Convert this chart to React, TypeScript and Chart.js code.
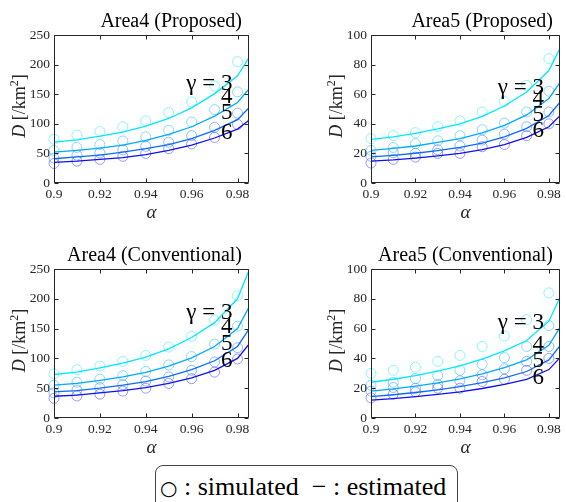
import React, { useEffect, useRef } from 'react';
import { Chart, registerables } from 'chart.js';

Chart.register(...registerables);

// ---------- data ----------
const alphaSimulated = [0.9, 0.91, 0.92, 0.93, 0.94, 0.95, 0.96, 0.97, 0.98];
const alphaEstimated = [0.9, 0.91, 0.92, 0.93, 0.94, 0.95, 0.96, 0.97, 0.98, 0.985];
const gammaValues = [3, 4, 5, 6];

const xTickValues = [0.9, 0.92, 0.94, 0.96, 0.98];
const xTickLabels = ['0.9', '0.92', '0.94', '0.96', '0.98'];
const area4YTicks = [0, 50, 100, 150, 200, 250];
const area5YTicks = [0, 20, 40, 60, 80, 100];

// simulated (circles)
const area4SimG3 = [74, 81, 87, 95, 105, 119, 137, 164, 205];
const area4SimG4 = [55, 60, 65, 71, 78, 89, 103, 124, 154];
const area4SimG5 = [42, 47, 51, 56, 62, 69, 80, 94, 118];
const area4SimG6 = [33, 37, 40, 45, 50, 58, 66, 77, 99];

const area5SimG3 = [30, 32, 34, 38, 42, 48, 55, 66, 84];
const area5SimG4 = [22, 24, 26.5, 28.5, 32, 36, 40.5, 48, 62];
const area5SimG5 = [18, 20.5, 20, 22.5, 25, 29, 33, 38, 48];
const area5SimG6 = [13.5, 16, 17.5, 20, 20, 24.5, 26, 32, 40];

// estimated (lines) - proposed
const area4PropG3 = [69, 73, 79, 86, 96, 109, 127, 151, 181, 212];
const area4PropG4 = [52, 55, 59, 64, 72, 82, 95, 113, 136, 159];
const area4PropG5 = [41, 44, 47, 52, 58, 65, 75, 89, 107, 127];
const area4PropG6 = [35, 37, 40, 43, 48, 55, 64, 76, 91, 106];

const area5PropG3 = [29.5, 31.2, 33.5, 36.5, 40, 45, 52, 61.5, 76, 91];
const area5PropG4 = [22, 23.4, 25, 27.4, 30, 33.8, 39, 46, 57, 68];
const area5PropG5 = [17.7, 18.7, 20.1, 21.9, 24, 27, 31.2, 36.9, 45.6, 54.6];
const area5PropG6 = [14.8, 15.6, 16.8, 18.3, 20, 22.5, 26, 30.8, 38, 45.5];

// estimated (lines) - conventional
const area4ConvG3 = [73, 77, 84, 92, 102, 116, 135, 160, 200, 248];
const area4ConvG4 = [55, 58, 63, 69, 76.5, 87, 101, 120, 150, 186];
const area4ConvG5 = [44, 46, 50, 55, 61, 70, 81, 96, 120, 149];
const area4ConvG6 = [36.5, 38.5, 42, 46, 51, 58, 67.5, 80, 100, 124];

const area5ConvG3 = [24, 26, 28.5, 31.5, 35, 39.5, 45, 52, 65, 81];
const area5ConvG4 = [18, 19.5, 21.4, 23.6, 26.3, 29.6, 33.8, 39, 48.8, 60.8];
const area5ConvG5 = [14.4, 15.6, 17.1, 18.9, 21, 23.7, 27, 31.2, 39, 48.6];
const area5ConvG6 = [12, 13, 14.3, 15.8, 17.5, 19.8, 22.5, 26, 32.5, 40.5];

// gamma annotation anchors (data coords: alpha, D)
const area4PropLabelD = [156.6, 134.6, 107.6, 73.8];
const area5PropLabelD = [59.9, 52.5, 41.7, 30.9];
const area4ConvLabelD = [166.3, 142.8, 114.4, 85.9];
const area5ConvLabelD = [59.8, 45.1, 34.4, 23.0];
const labelAlpha = 0.9778;

// ---------- styles ----------
const lineColors = ['#00E8FF', '#00AAFF', '#0A6CFF', '#1010F0'];
const circleColors = [
  'rgba(0,232,255,0.45)',
  'rgba(0,170,255,0.45)',
  'rgba(10,108,255,0.45)',
  'rgba(16,16,240,0.42)',
];
const SERIF = '"Liberation Serif", "Times New Roman", serif';
const CW = 283;
const CH = 230;

type Panel = {
  title: string;
  left: number;
  top: number;
  area: { l: number; r: number; t: number; b: number };
  yMax: number;
  yTicks: number[];
  sim: number[][];
  est: number[][];
  labelD: number[];
};

const panels: Panel[] = [
  {
    title: 'Area4 (Proposed)', left: 0, top: 0,
    area: { l: 54, r: 249, t: 35, b: 183 },
    yMax: 250, yTicks: area4YTicks,
    sim: [area4SimG3, area4SimG4, area4SimG5, area4SimG6],
    est: [area4PropG3, area4PropG4, area4PropG5, area4PropG6],
    labelD: area4PropLabelD,
  },
  {
    title: 'Area5 (Proposed)', left: 283, top: 0,
    area: { l: 88, r: 283, t: 35, b: 183 },
    yMax: 100, yTicks: area5YTicks,
    sim: [area5SimG3, area5SimG4, area5SimG5, area5SimG6],
    est: [area5PropG3, area5PropG4, area5PropG5, area5PropG6],
    labelD: area5PropLabelD,
  },
  {
    title: 'Area4 (Conventional)', left: 0, top: 230,
    area: { l: 54, r: 249, t: 39, b: 188 },
    yMax: 250, yTicks: area4YTicks,
    sim: [area4SimG3, area4SimG4, area4SimG5, area4SimG6],
    est: [area4ConvG3, area4ConvG4, area4ConvG5, area4ConvG6],
    labelD: area4ConvLabelD,
  },
  {
    title: 'Area5 (Conventional)', left: 283, top: 230,
    area: { l: 88, r: 283, t: 39, b: 188 },
    yMax: 100, yTicks: area5YTicks,
    sim: [area5SimG3, area5SimG4, area5SimG5, area5SimG6],
    est: [area5ConvG3, area5ConvG4, area5ConvG5, area5ConvG6],
    labelD: area5ConvLabelD,
  },
];

function decorPlugin(p: Panel) {
  return {
    id: 'decor',
    afterDraw(chart: any) {
      const { ctx, chartArea: a, scales } = chart;
      const xs = scales.x;
      const ys = scales.y;
      ctx.save();
      // box
      ctx.strokeStyle = '#262626';
      ctx.lineWidth = 1;
      const L = Math.round(a.left) + 0.5;
      const R = Math.round(a.right) - 0.5;
      const T = Math.round(a.top) + 0.5;
      const B = Math.round(a.bottom) - 0.5;
      ctx.beginPath();
      ctx.moveTo(L, T); ctx.lineTo(R, T); ctx.lineTo(R, B); ctx.lineTo(L, B); ctx.closePath();
      const tl = 4;
      xs.ticks.forEach((t: any) => {
        const px = Math.round(xs.getPixelForValue(t.value)) + 0.5;
        ctx.moveTo(px, B); ctx.lineTo(px, B - tl);
        ctx.moveTo(px, T); ctx.lineTo(px, T + tl);
      });
      ys.ticks.forEach((t: any) => {
        const py = Math.round(ys.getPixelForValue(t.value)) + 0.5;
        ctx.moveTo(L, py); ctx.lineTo(L + tl, py);
        ctx.moveTo(R, py); ctx.lineTo(R - tl, py);
      });
      ctx.stroke();

      // title
      ctx.fillStyle = '#000';
      ctx.font = `20px ${SERIF}`;
      ctx.textAlign = 'right';
      ctx.textBaseline = 'alphabetic';
      ctx.fillText(p.title, a.right - 7, a.top - 8);

      // x-axis label
      ctx.fillStyle = '#262626';
      ctx.font = `italic 19px ${SERIF}`;
      ctx.textAlign = 'center';
      ctx.fillText('α', (a.left + a.right) / 2, a.bottom + 35);

      // y-axis label with superscript
      const parts = [
        { t: 'D', f: `italic 18px ${SERIF}`, dy: 0 },
        { t: ' [/km', f: `18px ${SERIF}`, dy: 0 },
        { t: '2', f: `12px ${SERIF}`, dy: -7 },
        { t: ']', f: `18px ${SERIF}`, dy: 0 },
      ];
      let total = 0;
      parts.forEach((pt) => { ctx.font = pt.f; total += ctx.measureText(pt.t).width; });
      ctx.translate(a.left - 29, (a.top + a.bottom) / 2 - 3);
      ctx.rotate(-Math.PI / 2);
      ctx.textAlign = 'left';
      let u = -total / 2;
      parts.forEach((pt) => {
        ctx.font = pt.f;
        ctx.fillText(pt.t, u, pt.dy);
        u += ctx.measureText(pt.t).width;
      });
      ctx.setTransform(1, 0, 0, 1, 0, 0);

      // gamma labels
      ctx.fillStyle = '#000';
      ctx.font = `23px ${SERIF}`;
      ctx.textAlign = 'right';
      const lx = xs.getPixelForValue(labelAlpha);
      gammaValues.forEach((g, i) => {
        const txt = i === 0 ? `γ = ${g}` : `${g}`;
        ctx.fillText(txt, lx, ys.getPixelForValue(p.labelD[i]));
      });
      ctx.restore();
    },
  };
}

function makeConfig(p: Panel): any {
  const lineSets = gammaValues.map((g, i) => ({
    label: `estimated γ=${g}`,
    data: alphaEstimated.map((a, k) => ({ x: a, y: p.est[i][k] })),
    borderColor: lineColors[i],
    backgroundColor: lineColors[i],
    borderWidth: 1.3,
    pointRadius: 0,
    tension: 0,
    fill: false,
  }));
  const simSets = gammaValues.map((g, i) => ({
    label: `simulated γ=${g}`,
    data: alphaSimulated.map((a, k) => ({ x: a, y: p.sim[i][k] })),
    showLine: false,
    borderColor: circleColors[i],
    backgroundColor: 'rgba(0,0,0,0)',
    pointBorderColor: circleColors[i],
    pointBackgroundColor: 'rgba(0,0,0,0)',
    pointRadius: 5,
    pointBorderWidth: 1,
    pointStyle: 'circle',
    clip: false,
  }));
  const H = CH;
  return {
    type: 'line',
    data: { datasets: [...lineSets, ...simSets] },
    options: {
      responsive: false,
      animation: false,
      events: [],
      layout: { padding: { top: p.area.t, right: CW - p.area.r, left: 0, bottom: 0 } },
      plugins: {
        legend: { display: false },
        tooltip: { enabled: false },
        title: { display: false },
      },
      scales: {
        x: {
          type: 'linear',
          min: 0.9,
          max: 0.985,
          grid: { display: false, drawTicks: false },
          border: { display: false },
          afterBuildTicks: (s: any) => { s.ticks = xTickValues.map((v) => ({ value: v })); },
          ticks: {
            autoSkip: false,
            maxRotation: 0,
            padding: 3,
            color: '#262626',
            font: { family: SERIF, size: 13.5 },
            callback: (_v: any, idx: number) => xTickLabels[idx],
          },
          afterFit: (s: any) => {
            s.height = H - p.area.b;
            s.paddingLeft = 0; s.paddingRight = 0;
          },
        },
        y: {
          type: 'linear',
          min: 0,
          max: p.yMax,
          grid: { display: false, drawTicks: false },
          border: { display: false },
          afterBuildTicks: (s: any) => { s.ticks = p.yTicks.map((v) => ({ value: v })); },
          ticks: {
            padding: 4,
            color: '#262626',
            font: { family: SERIF, size: 13.5 },
            callback: (v: any) => String(v),
          },
          afterFit: (s: any) => {
            s.width = p.area.l;
            s.paddingTop = 0; s.paddingBottom = 0;
          },
        },
      },
    },
    plugins: [decorPlugin(p)],
  };
}

function PanelChart({ p }: { p: Panel }) {
  const ref = useRef<HTMLCanvasElement | null>(null);
  useEffect(() => {
    if (!ref.current) return;
    const chart = new Chart(ref.current, makeConfig(p));
    return () => chart.destroy();
  }, [p]);
  return (
    <canvas
      ref={ref}
      width={CW}
      height={CH}
      style={{ position: 'absolute', left: p.left, top: p.top, width: CW, height: CH }}
    />
  );
}

export default function App() {
  return (
    <div
      style={{
        position: 'absolute', left: 0, top: 0, width: 566, height: 502,
        overflow: 'hidden', background: '#fff',
      }}
    >
      {panels.map((p) => (
        <PanelChart key={p.title} p={p} />
      ))}
      <div
        style={{
          position: 'absolute', left: 155, top: 465, width: 303, height: 50,
          border: '1px solid #444', borderRadius: 8, boxSizing: 'border-box',
        }}
      />
      <div
        style={{
          position: 'absolute', left: 160, top: 472, whiteSpace: 'pre',
          fontFamily: SERIF, fontSize: 26, lineHeight: '30px', color: '#000',
        }}
      >
        <span style={{ fontFamily: '"DejaVu Sans", sans-serif', fontSize: 20 }}>○</span>
        {' : simulated  '}
        <span>−</span>
        {' : estimated'}
      </div>
    </div>
  );
}
